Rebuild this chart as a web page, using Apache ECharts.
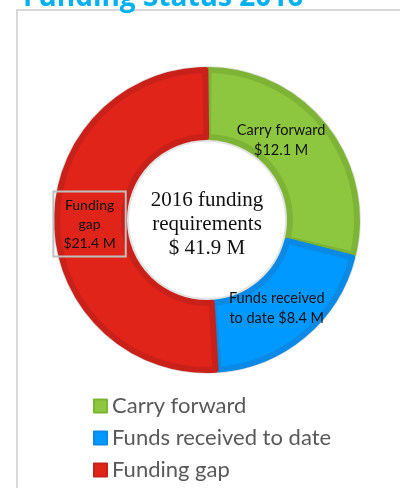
<!DOCTYPE html>
<html><head><meta charset="utf-8">
<script src="https://cdn.jsdelivr.net/npm/echarts@6/dist/echarts.min.js"></script>
<style>html,body{margin:0;padding:0;background:#fff}#c{width:400px;height:488px}</style>
</head><body><div id="c"></div>
<script>
const titleText = 'Funding Status 2016';
const categories = ['Carry forward', 'Funds received to date', 'Funding gap'];
const values = [12.1, 8.4, 21.4];
const sliceLabels = ['Carry forward\n$12.1 M', 'Funds received\nto date $8.4 M', 'Funding\ngap\n$21.4 M'];
const centerText = '2016 funding\nrequirements\n$ 41.9 M';

const fill = ['#8dc63f', '#0099ff', '#e0241a'];
const edge = ['#7db436', '#0a8ae6', '#c9211a'];
const cx = 207, cy = 220;

const chart = echarts.init(document.getElementById('c'), null, {renderer: 'canvas'});
const dataMain = categories.map((n, i) => ({
  name: n, value: values[i],
  itemStyle: {color: fill[i], borderColor: edge[i]},
  label: i === 0 ? {offset: [-20, -6], fontSize: 14.5} :
         i === 1 ? {offset: [18, -3], align: 'left', padding: [0, 0, 0, -50], fontSize: 14.5} :
         {borderColor: '#bfbfbf', borderWidth: 2, padding: [4, 10, 4, 10], offset: [2, 0], lineHeight: 19}
}));
chart.setOption({
  animation: false,
  title: {text: titleText, left: 18, top: -21,
    textStyle: {color: '#00b0f0', fontSize: 28, fontWeight: 'bold', fontFamily: 'Open Sans'}},
  graphic: [
    {type: 'rect', shape: {x: 17, y: 10, width: 400, height: 500},
     style: {fill: 'none', stroke: '#d9d9d9', lineWidth: 2}, z: -1},
    {type: 'text', x: cx, y: cy + 4,
     style: {text: centerText, align: 'center', verticalAlign: 'middle',
       font: '21px "Liberation Serif", serif', fill: '#111', lineHeight: 24}}
  ],
  legend: {
    orient: 'vertical', left: 88, top: 390, itemGap: 10,
    itemWidth: 13, itemHeight: 13, icon: 'rect',
    textStyle: {color: '#595959', fontSize: 22, fontFamily: 'Lato'},
    data: categories
  },
  series: [
    {type: 'pie', silent: true, center: [cx, cy], radius: [78, 154], startAngle: 90,
     label: {show: false}, labelLine: {show: false}, legendHoverLink: false,
     data: [{value: 1, name: '_bg', itemStyle: {color: '#e3e3e3'}}]},
    {type: 'pie', center: [cx, cy], radius: [83, 150], startAngle: 90, clockwise: true,
     padAngle: 1.2, avoidLabelOverlap: false,
     itemStyle: {borderWidth: 6},
     label: {show: true, position: 'inside', color: '#111', fontSize: 14, fontFamily: 'Lato',
       lineHeight: 20, formatter: p => sliceLabels[p.dataIndex]},
     labelLine: {show: false},
     data: dataMain}
  ]
});
</script></body></html>
